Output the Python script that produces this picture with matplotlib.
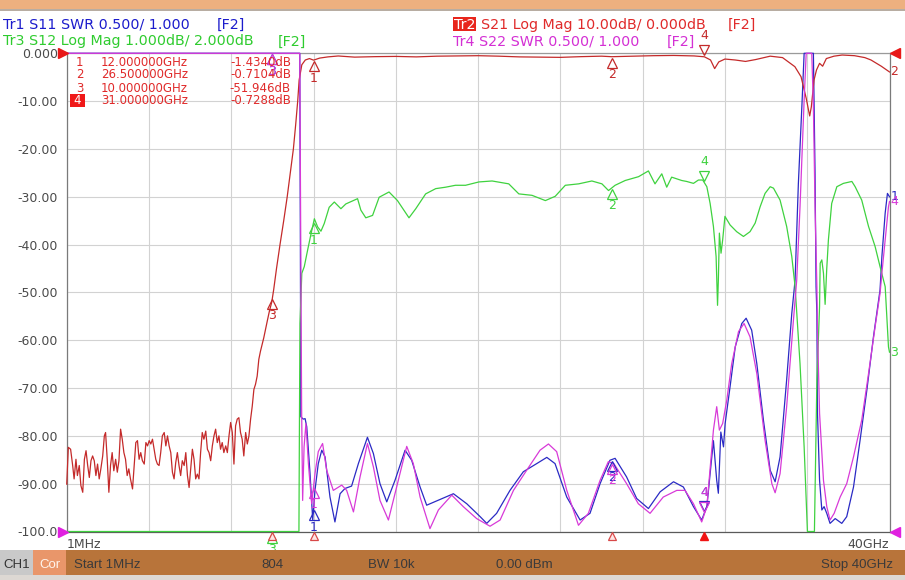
#!/usr/bin/env python3
"""
VNA screenshot, 1 MHz - 40 GHz band-pass filter sweep:
S11 / S22 SWR, S21 / S12 log mag, with markers at 12, 26.5, 10 and 31 GHz.

Output: out.png (905 x 580 px)
"""

import numpy as np
import matplotlib

matplotlib.use("Agg")

import matplotlib.pyplot as plt
from matplotlib.patches import Rectangle
from matplotlib.transforms import offset_copy, blended_transform_factory


W, H, DPI = 905, 580, 100

# Plot window in screen pixels.
PX_L, PX_R, PX_T, PX_B = 66.7, 889.5, 53.3, 531.5

C_S11 = "#2a2ac4"
C_S21 = "#c42a2a"
C_S12 = "#3fd23f"
C_S22 = "#d83ad8"
C_TXT_S11 = "#1c1ccc"
C_TXT_S21 = "#e02a2a"
C_TXT_S12 = "#2fcc2f"
C_TXT_S22 = "#d430d4"
C_GRID = "#d2d2d2"
C_BAR = "#b8743a"

# --- data (dB on the 10 dB/div scale) ---

# S21 stopband noise floor, GHz / dB
S21_STOP_F = [
    0.001, 0.08, 0.19, 0.29, 0.36, 0.45, 0.52, 0.61, 0.69, 0.78,
    0.86, 0.94, 1.02, 1.10, 1.18, 1.26, 1.34, 1.42, 1.50, 1.58,
    1.66, 1.75, 1.83, 1.89, 1.97, 2.05, 2.13, 2.21, 2.29, 2.38,
    2.46, 2.54, 2.62, 2.70, 2.78, 2.86, 2.94, 3.02, 3.10, 3.20,
    3.28, 3.36, 3.44, 3.52, 3.60, 3.68, 3.77, 3.85, 3.93, 4.01,
    4.09, 4.17, 4.25, 4.33, 4.41, 4.49, 4.57, 4.65, 4.74, 4.82,
    4.90, 4.98, 5.06, 5.14, 5.22, 5.30, 5.38, 5.46, 5.54, 5.62,
    5.71, 5.79, 5.87, 5.95, 6.03, 6.11, 6.19, 6.27, 6.35, 6.43,
    6.51, 6.59, 6.67, 6.76, 6.84, 6.92, 7.00, 7.08, 7.16, 7.24,
    7.32, 7.40, 7.48, 7.56, 7.64, 7.73, 7.81, 7.89, 7.97, 8.05,
    8.13, 8.21, 8.29, 8.37, 8.45, 8.53, 8.61, 8.70, 8.78, 8.86,
]
S21_STOP_DB = [
    -90.1, -82.4, -82.8, -86.2, -89.0, -84.9, -88.3, -86.2, -90.4, -91.8,
    -84.9, -83.1, -86.2, -88.7, -85.2, -84.2, -85.2, -88.3, -85.9, -89.0,
    -86.9, -84.2, -80.0, -79.3, -84.9, -91.8, -86.2, -83.5, -87.3, -84.9,
    -87.6, -85.2, -78.6, -80.7, -83.5, -84.9, -88.3, -86.9, -89.0, -91.1,
    -86.2, -81.4, -81.0, -84.9, -83.5, -85.2, -85.9, -81.4, -82.1, -81.0,
    -81.7, -80.7, -82.8, -84.9, -85.9, -86.2, -83.5, -80.0, -79.3, -82.1,
    -80.0, -82.1, -83.5, -87.6, -89.0, -85.6, -83.5, -86.2, -88.3, -85.2,
    -86.2, -83.5, -88.3, -90.8, -86.9, -82.8, -84.9, -89.0, -88.0, -89.0,
    -83.5, -79.3, -80.7, -79.0, -82.8, -83.5, -85.2, -82.1, -80.0, -78.6,
    -81.4, -80.0, -82.8, -81.4, -83.5, -82.1, -83.5, -80.0, -77.2, -79.3,
    -85.9, -77.9, -76.5, -76.2, -79.3, -80.7, -84.2, -79.3, -81.7, -80.0,
]

# S21 skirt, passband and upper notch
S21_PASS_F = [
    8.94, 9.02, 9.10, 9.18, 9.26, 9.34, 9.42, 9.50, 9.58, 9.66,
    9.75, 9.85, 9.97, 10.06, 10.20, 10.37, 10.55, 10.72, 10.87, 11.02,
    11.13, 11.23, 11.30, 11.43, 11.60, 11.80, 12.00, 12.30, 12.70, 13.20,
    14.0, 15.0, 16.0, 17.0, 18.0, 19.0, 20.0, 21.0, 22.0, 23.0,
    24.0, 25.0, 26.0, 26.5, 27.5, 28.5, 29.5, 30.5, 31.0, 31.3,
    31.5, 31.7, 32.0, 32.5, 33.0, 33.5, 34.2, 34.8, 35.4, 35.7,
    35.95, 36.12, 36.20, 36.33, 36.45, 36.60, 36.75, 36.93, 37.3, 37.7,
    38.3, 38.8, 39.1, 39.6, 40.0,
]
S21_PASS_DB = [
    -76.5, -73.8, -70.3, -69.2, -67.5, -64.0, -62.3, -60.9, -59.5, -57.8,
    -56.0, -54.0, -52.0, -49.5, -45.0, -40.0, -35.0, -30.0, -25.0, -20.0,
    -15.0, -10.0, -5.6, -2.4, -1.4, -1.1, -1.43, -1.0, -0.75, -0.56,
    -0.8, -0.7, -0.65, -0.75, -0.6, -0.55, -0.5, -0.6, -0.75, -0.8,
    -0.85, -0.7, -0.6, -0.71, -0.6, -0.5, -0.45, -0.55, -0.73, -1.4,
    -3.2, -1.8, -1.2, -1.4, -1.7, -1.3, -0.6, -0.9, -2.8, -4.9,
    -9.4, -13.1, -11.2, -5.6, -3.5, -2.1, -2.7, -1.1, -0.6, -0.36,
    -0.5, -0.9, -1.4, -2.7, -3.9,
]

# S12 (clipped at the bottom edge outside the passband)
S12_F = [
    0.001, 11.29, 11.31, 11.34, 11.43, 11.55, 11.71, 11.88, 12.04, 12.20,
    12.36, 12.52, 12.76, 13.01, 13.33, 13.57, 14.14, 14.30, 14.54, 14.87,
    15.19, 15.67, 16.08, 16.64, 16.97, 17.45, 17.94, 18.42, 18.90, 19.39,
    20.04, 20.68, 21.49, 21.98, 22.62, 23.27, 23.75, 24.24, 24.89, 25.53,
    26.02, 26.34, 26.66, 27.15, 27.80, 28.28, 28.60, 28.93, 29.17, 29.41,
    29.90, 30.14, 30.47, 30.71, 30.92, 31.12, 31.28, 31.44, 31.57, 31.64,
    31.68, 31.73, 31.81, 31.89, 32.00, 32.25, 32.57, 32.90, 33.22, 33.47,
    33.71, 33.95, 34.20, 34.36, 34.68, 35.00, 35.25, 35.41, 35.65, 35.85,
    36.01, 36.35, 36.47, 36.60, 36.63, 36.71, 36.79, 36.87, 36.95, 37.03,
    37.19, 37.44, 37.76, 38.17, 38.33, 38.65, 38.98, 39.30, 39.54, 39.79,
    39.95, 40.0,
]
S12_DB = [
    -100, -100, -81.0, -56.5, -46.0, -44.6, -41.2, -37.7, -34.6, -36.3,
    -37.2, -35.6, -32.2, -31.1, -32.5, -31.5, -30.4, -32.8, -34.4, -33.9,
    -30.1, -29.0, -30.8, -34.4, -32.5, -29.4, -28.3, -28.0, -27.6, -27.6,
    -26.9, -26.7, -27.3, -29.4, -29.7, -30.8, -29.9, -27.6, -27.3, -26.7,
    -27.3, -28.7, -27.6, -26.6, -25.8, -24.6, -27.3, -25.2, -28.0, -25.9,
    -26.6, -26.8, -27.2, -26.5, -26.5, -27.9, -31.4, -36.2, -42.5, -52.7,
    -47.4, -37.6, -41.8, -39.0, -34.1, -35.9, -37.3, -38.3, -37.3, -35.5,
    -32.1, -29.3, -27.9, -28.2, -30.7, -36.2, -42.5, -48.8, -64.9, -82.3,
    -100, -100, -68.3, -53.0, -43.9, -43.2, -46.0, -52.5, -45.0, -39.0,
    -31.4, -27.9, -27.2, -26.8, -27.9, -30.7, -36.2, -40.4, -44.6, -48.8,
    -61.4, -62.5,
]

# S11 SWR, on screen (clipped at the top edge in the stopbands)
S11_F = [
    0.001, 11.33, 11.36, 11.38, 11.50, 11.59, 11.67, 11.83, 11.96, 12.07,
    12.23, 12.40, 12.56, 12.80, 13.04, 13.29, 13.53, 13.85, 14.18, 14.62,
    14.91, 15.23, 15.56, 15.96, 16.45, 16.77, 17.18, 17.50, 18.15, 18.80,
    19.45, 20.10, 20.42, 20.90, 21.55, 22.20, 22.85, 23.34, 23.74, 24.31,
    24.96, 25.44, 25.93, 26.41, 26.66, 27.22, 27.71, 28.28, 28.85, 29.50,
    29.98, 30.47, 30.87, 31.12, 31.28, 31.44, 31.60, 31.68, 31.80, 31.93,
    32.01, 32.25, 32.50, 32.82, 33.03, 33.30, 33.55, 33.87, 34.20, 34.44,
    34.68, 35.00, 35.25, 35.41, 35.57, 35.74, 35.85, 36.30, 36.38, 36.43,
    36.47, 36.50, 36.60, 36.71, 36.82, 36.95, 37.11, 37.36, 37.68, 37.92,
    38.25, 38.57, 38.90, 39.22, 39.54, 39.63, 39.79, 39.90, 40.0,
]
S11_DB = [
    0, 0, -40.0, -76.0, -76.5, -76.4, -78.1, -87.9, -97.6, -91.4,
    -85.8, -83.0, -84.4, -92.8, -98.0, -92.1, -91.0, -90.5, -85.8, -80.3,
    -83.7, -90.0, -93.8, -89.3, -83.0, -85.1, -90.7, -94.5, -93.3, -92.1,
    -94.2, -96.9, -98.3, -96.2, -91.4, -87.5, -85.8, -84.5, -85.8, -92.8,
    -97.6, -96.2, -90.0, -85.1, -84.7, -88.6, -93.1, -95.2, -91.7, -89.6,
    -90.7, -94.8, -97.6, -94.8, -87.9, -81.0, -89.3, -92.0, -79.2, -82.3,
    -77.4, -69.7, -61.4, -56.5, -55.4, -57.9, -64.9, -76.7, -87.2, -89.6,
    -84.4, -68.3, -54.4, -47.4, -27.2, -11.1, 0, 0, -25.0, -48.8,
    -54.4, -75.3, -89.3, -95.5, -94.8, -96.2, -98.3, -97.3, -98.3, -96.9,
    -90.7, -80.9, -70.4, -59.3, -49.5, -42.5, -33.4, -29.3, -30.0,
]

# S22 SWR, on screen
S22_F = [
    0.001, 11.33, 11.42, 11.47, 11.54, 11.63, 11.75, 11.91, 12.07, 12.23,
    12.44, 12.64, 12.96, 13.37, 13.61, 13.94, 14.26, 14.62, 14.91, 15.23,
    15.64, 16.04, 16.53, 16.85, 17.18, 17.66, 18.07, 18.72, 19.28, 19.93,
    20.58, 21.07, 21.72, 22.36, 23.01, 23.42, 23.82, 24.31, 24.88, 25.36,
    25.93, 26.33, 26.60, 27.22, 27.79, 28.36, 29.00, 29.66, 30.06, 30.47,
    30.87, 31.12, 31.44, 31.60, 31.73, 31.89, 32.09, 32.33, 32.66, 32.93,
    33.22, 33.55, 33.95, 34.28, 34.44, 34.68, 35.00, 35.33, 35.49, 35.65,
    35.85, 35.95, 36.22, 36.30, 36.38, 36.47, 36.50, 36.60, 36.79, 36.95,
    37.11, 37.31, 37.60, 37.92, 38.25, 38.65, 38.98, 39.30, 39.54, 39.63,
    39.79, 39.95, 40.0,
]
S22_DB = [
    0, 0, -74.0, -93.5, -82.3, -77.4, -85.8, -94.2, -87.9, -83.3,
    -81.6, -87.2, -91.4, -90.3, -91.4, -95.9, -88.6, -81.6, -86.5, -93.5,
    -97.6, -90.7, -82.2, -85.8, -92.8, -99.4, -95.5, -92.4, -94.8, -97.3,
    -98.9, -97.6, -91.4, -87.2, -83.0, -81.7, -83.3, -91.4, -98.7, -96.2,
    -89.3, -85.4, -85.8, -90.0, -94.2, -96.2, -92.8, -91.4, -91.4, -94.2,
    -98.0, -94.8, -78.8, -73.9, -78.8, -77.4, -72.5, -64.9, -58.2, -56.5,
    -59.3, -67.0, -80.9, -90.0, -91.9, -87.9, -73.9, -55.8, -47.4, -32.1,
    -9.8, 0, 0, -11.1, -32.0, -48.8, -57.9, -75.3, -89.3, -94.8,
    -97.6, -96.2, -92.8, -90.0, -84.4, -76.7, -67.0, -57.2, -50.2, -46.0,
    -39.0, -32.1, -31.0,
]

MARKER_F = [12.0, 26.5, 10.0, 31.0]
MARKER_F_TXT = ["12.000000GHz", "26.500000GHz", "10.000000GHz", "31.000000GHz"]
MARKER_VAL_TXT = ["-1.4340dB", "-0.7104dB", "-51.946dB", "-0.7288dB"]
ACTIVE = 3

Y_TICKS = [0, -10, -20, -30, -40, -50, -60, -70, -80, -90, -100]
Y_LABELS = ["0.000", "-10.00", "-20.00", "-30.00", "-40.00", "-50.00",
            "-60.00", "-70.00", "-80.00", "-90.00", "-100.0"]


def fx(x):
    return x / W


def fy(y):
    return 1 - y / H


def fig_rect(fig, x0, y0, x1, y1, color):
    fig.add_artist(Rectangle((fx(x0), fy(y1)), fx(x1) - fx(x0), fy(y0) - fy(y1),
                             transform=fig.transFigure, facecolor=color,
                             edgecolor="none", zorder=1))


def fig_text(fig, x, y, s, color, size=10.3, ha="left", family="DejaVu Sans", **kw):
    fig.text(fx(x), fy(y), s, color=color, fontsize=size, ha=ha, va="baseline",
             family=family, zorder=5, **kw)


def trace_markers(fig, ax, freq, vals, color):
    for i, fm in enumerate(MARKER_F):
        yv = np.interp(fm, freq, vals)
        if i == ACTIVE:
            t_tri = offset_copy(ax.transData, fig=fig, x=0, y=7, units="dots")
            t_lbl = offset_copy(ax.transData, fig=fig, x=0, y=21, units="dots")
            mk = "v"
        else:
            t_tri = offset_copy(ax.transData, fig=fig, x=0, y=-6, units="dots")
            t_lbl = offset_copy(ax.transData, fig=fig, x=0, y=-18, units="dots")
            mk = "^"
        ax.plot([fm], [yv], marker=mk, ms=7, mfc="none", mec=color, mew=0.9,
                transform=t_tri, clip_on=False, zorder=6)
        ax.text(fm, yv, str(i + 1), transform=t_lbl, color=color, fontsize=9,
                ha="center", va="center", clip_on=False, zorder=6)


def main():
    fig = plt.figure(figsize=(W / DPI, H / DPI), dpi=DPI, facecolor="white")
    ax = fig.add_axes([fx(PX_L), fy(PX_B), fx(PX_R) - fx(PX_L), fy(PX_T) - fy(PX_B)])
    ax.set_facecolor("white")

    # Title strip and status bar.
    fig_rect(fig, 0, 0, W, 8.5, "#edb07f")
    fig_rect(fig, 0, 8.5, W, 11, "#b8ada2")
    fig_rect(fig, 0, 550, W, 575, C_BAR)
    fig_rect(fig, 0, 575, W, H, "#ddd8d3")
    fig_rect(fig, 0, 550, 33, 575, "#c9c9c9")
    fig_rect(fig, 33, 550, 66, 575, "#e9966a")

    bar_font = ["Liberation Sans", "DejaVu Sans"]
    bar_sz = 9.5
    fig_text(fig, 16.5, 568, "CH1", "#333333", bar_sz, ha="center", family=bar_font)
    fig_text(fig, 49.5, 568, "Cor", "#fff4ec", bar_sz, ha="center", family=bar_font)
    fig_text(fig, 74, 568, "Start 1MHz", "#3a3a3a", bar_sz, family=bar_font)
    fig_text(fig, 272, 568, "804", "#3a3a3a", bar_sz, ha="center", family=bar_font)
    fig_text(fig, 391, 568, "BW 10k", "#3a3a3a", bar_sz, ha="center", family=bar_font)
    fig_text(fig, 524, 568, "0.00 dBm", "#3a3a3a", bar_sz, ha="center", family=bar_font)
    fig_text(fig, 893, 568, "Stop 40GHz", "#3a3a3a", bar_sz, ha="right", family=bar_font)

    # Trace headers.
    fig_text(fig, 3, 29, "Tr1 S11 SWR 0.500/ 1.000", C_TXT_S11)
    fig_text(fig, 217, 29, "[F2]", C_TXT_S11)
    fig_text(fig, 3, 45.5, "Tr3 S12 Log Mag 1.000dB/ 2.000dB", C_TXT_S12)
    fig_text(fig, 278, 45.5, "[F2]", C_TXT_S12)
    fig_rect(fig, 453, 16.5, 476, 30.5, "#e8261c")
    fig_text(fig, 454, 29, "Tr2", "white")
    fig_text(fig, 481, 29, "S21 Log Mag 10.00dB/ 0.000dB", C_TXT_S21)
    fig_text(fig, 728, 29, "[F2]", C_TXT_S21)
    fig_text(fig, 453, 45.5, "Tr4 S22 SWR 0.500/ 1.000", C_TXT_S22)
    fig_text(fig, 667, 45.5, "[F2]", C_TXT_S22)

    # Grid and axes.
    ax.set_xlim(0, 40)
    ax.set_ylim(-100, 0)
    ax.set_xticks(np.arange(0, 41, 4))
    ax.set_yticks(Y_TICKS)
    ax.set_yticklabels(Y_LABELS)
    ax.tick_params(axis="x", length=0, labelbottom=False)
    ax.tick_params(axis="y", length=0, pad=6.5, labelsize=9, labelcolor="#4a4a4a")
    ax.grid(True, color=C_GRID, lw=0.8)
    ax.set_axisbelow(True)
    for side, col in [("left", "#7a7a7a"), ("right", "#7a7a7a"),
                      ("top", "#9a9a9a"), ("bottom", "#5a5a5a")]:
        ax.spines[side].set_color(col)
        ax.spines[side].set_linewidth(0.9)

    s21_f = S21_STOP_F + S21_PASS_F
    s21_db = S21_STOP_DB + S21_PASS_DB

    ax.plot(S11_F, S11_DB, color=C_S11, lw=0.9, clip_on=False, zorder=3)
    ax.plot(s21_f, s21_db, color=C_S21, lw=0.9, clip_on=False, zorder=3.1)
    ax.plot(S12_F, S12_DB, color=C_S12, lw=0.9, clip_on=False, zorder=3.2)
    ax.plot(S22_F, S22_DB, color=C_S22, lw=0.9, clip_on=False, zorder=3.3)

    traces = [(S11_F, S11_DB, C_S11, "1"), (s21_f, s21_db, C_S21, "2"),
              (S12_F, S12_DB, C_S12, "3"), (S22_F, S22_DB, C_S22, "4")]
    for f, v, c, tag in traces:
        trace_markers(fig, ax, f, v, c)
        t_end = offset_copy(ax.transData, fig=fig, x=1, y=0, units="dots")
        ax.text(f[-1], v[-1], tag, transform=t_end, color=c, fontsize=9,
                ha="left", va="center", clip_on=False, zorder=6)

    # Stimulus marker flags along the bottom edge.
    t_flag = offset_copy(ax.transData, fig=fig, x=0, y=-4, units="dots")
    for i, fm in enumerate(MARKER_F):
        if i == ACTIVE:
            ax.plot([fm], [-100], marker="^", ms=6, color="#f01414",
                    transform=t_flag, clip_on=False, zorder=7)
        else:
            ax.plot([fm], [-100], marker="^", ms=6, mfc="#fde4e4", mec="#d84848",
                    mew=0.9, transform=t_flag, clip_on=False, zorder=7)

    # Reference position triangles.
    tb = blended_transform_factory(ax.transAxes, ax.transData)
    ax.plot([-0.0040], [0], marker=">", ms=6.5, color="#e81818", transform=tb, clip_on=False, zorder=7)
    ax.plot([1.0062], [0], marker="<", ms=6.5, color="#e81818", transform=tb, clip_on=False, zorder=7)
    ax.plot([-0.0040], [-100], marker=">", ms=6.5, color="#e020e0", transform=tb, clip_on=False, zorder=7)
    ax.plot([1.0062], [-100], marker="<", ms=6.5, color="#e020e0", transform=tb, clip_on=False, zorder=7)

    fig_text(fig, 67, 548, "1MHz", "#4a4a4a", 9)
    fig_text(fig, 889, 548, "40GHz", "#4a4a4a", 9, ha="right")

    # Marker readout table.
    for i in range(len(MARKER_F)):
        yb = 65.5 + 13 * i
        if i == ACTIVE:
            fig_rect(fig, 70, yb - 10, 85, yb + 2, "#f01818")
            fig_text(fig, 77.5, yb, str(i + 1), "white", 8.5, ha="center")
        else:
            fig_text(fig, 79.5, yb, str(i + 1), "#e02a2a", 8.5, ha="center")
        fig_text(fig, 101, yb, MARKER_F_TXT[i], "#e02a2a", 8.5)
        fig_text(fig, 291, yb, MARKER_VAL_TXT[i], "#e02a2a", 8.5, ha="right")

    fig.savefig("out.png", dpi=DPI, facecolor="white")
    plt.close(fig)


if __name__ == "__main__":
    main()
